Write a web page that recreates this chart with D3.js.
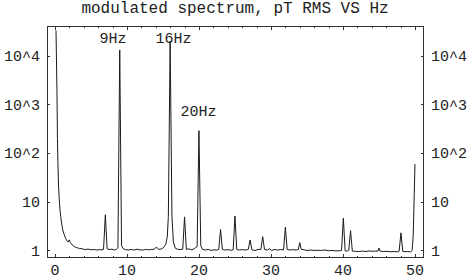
<!DOCTYPE html>
<html><head><meta charset="utf-8">
<script src="https://cdn.jsdelivr.net/npm/d3@7"></script>
<style>html,body{margin:0;padding:0;background:#fff;}svg{display:block;}</style>
</head><body>
<script>
const titleText = "modulated spectrum, pT RMS VS Hz";
const freq = [0.15,0.28,0.35,0.42,0.5,0.6,0.7,0.8,0.95,1.1,1.3,1.5,1.7,1.85,2.0,2.15,2.4,2.7,3.0,3.4,3.8,4.2,4.6,5.0,5.4,5.8,6.2,6.5,6.75,7.0,7.25,7.5,7.9,8.3,8.55,8.75,9.0,9.25,9.5,9.8,10.2,10.6,11.0,11.4,11.8,12.2,12.6,13.0,13.4,13.8,14.1,14.4,14.8,15.1,15.4,15.6,15.75,16.0,16.25,16.45,16.7,17.0,17.4,17.75,18.0,18.25,18.6,19.0,19.4,19.75,20.0,20.25,20.5,20.9,21.3,21.7,22.1,22.5,22.75,23.0,23.25,23.6,24.0,24.4,24.75,25.0,25.25,25.6,26.0,26.4,26.85,27.1,27.35,27.8,28.2,28.6,28.85,29.1,29.5,29.8,30.1,30.5,30.9,31.3,31.75,32.0,32.25,32.6,33.0,33.5,33.8,34.0,34.2,34.6,35.0,35.5,36.0,36.5,37.0,37.5,38.0,38.5,39.0,39.5,39.8,40.05,40.3,40.6,40.8,41.05,41.3,41.7,42.2,42.7,43.2,43.6,44.0,44.5,44.85,45.0,45.15,45.6,46.1,46.6,47.1,47.55,47.8,48.05,48.3,48.6,49.0,49.4,49.6,49.75,49.9,50.0];
const amp = [33000,2000,200,60,22,11,7,5,3.5,2.6,2.1,1.75,1.55,1.5,1.65,1.45,1.3,1.2,1.15,1.1,1.08,1.04,1.07,1.03,1.05,1.02,1.04,1.03,1.05,5.4,1.08,1.05,1.06,1.02,1.05,1.15,13200,1.25,1.08,1.04,1.02,1.05,1.02,1.06,1.03,1.02,1.05,1.03,1.05,1.06,1.18,1.05,1.08,1.15,1.35,1.9,5,20000,5,1.5,1.12,1.06,1.04,1.06,4.9,1.05,1.08,1.03,1.1,1.2,290,1.25,1.05,1.02,1.05,1.0,1.03,1.02,1.05,2.7,1.05,1.02,1.04,1.01,1.03,5.1,1.05,1.02,1.04,1.02,1.05,1.64,1.03,1.0,1.05,1.05,1.92,1.05,1.02,1.08,1.0,1.05,1.02,1.04,1.03,3.0,1.05,1.02,1.04,1.02,1.05,1.45,1.05,1.03,1.0,1.02,1.0,1.01,1.0,1.02,0.99,1.0,0.98,0.99,1.0,4.6,0.98,0.97,1.0,2.55,0.97,0.96,0.95,0.97,0.95,0.98,0.96,0.97,0.97,1.12,0.97,0.95,0.96,0.94,0.95,0.94,0.97,2.3,0.96,0.94,0.95,0.94,1.0,2,15,60];
const xTicks = [0,10,20,30,40,50];
const xMinorTicks = [0,2,4,6,8,10,12,14,16,18,20,22,24,26,28,30,32,34,36,38,40,42,44,46,48,50];
const yTicks = [1,10,100,1000,10000];
const yTickLabels = ["1","10","10^2","10^3","10^4"];
const peakLabels = ["9Hz","16Hz","20Hz"];
const peakLabelFreq = [8.05,16.45,19.95];
const peakLabelAmp = [18400,18400,580];

const W = 473, H = 280;
const L = 47, R = 424, T = 26, B = 258;
const font = "'Liberation Mono', 'DejaVu Sans Mono', monospace";

const svg = d3.select("body").append("svg").attr("width", W).attr("height", H);
const x = d3.scaleLinear().domain([-1.1, 51.25]).range([L, R]);
const y = d3.scaleLog().domain([0.70, 41000]).range([B, T]);

svg.append("defs").append("clipPath").attr("id","clip")
  .append("rect").attr("x",L).attr("y",T).attr("width",R-L).attr("height",B-T);

const data = freq.map((f,i)=>[f, amp[i]]);
svg.append("path").datum(data)
  .attr("clip-path","url(#clip)")
  .attr("fill","none").attr("stroke","#1a1a1a").attr("stroke-width",1)
  .attr("stroke-linejoin","round")
  .attr("d", d3.line().x(d=>x(d[0])).y(d=>y(d[1])));

// frame
svg.append("rect").attr("x",L+0.5).attr("y",T+0.5).attr("width",R-L-1).attr("height",B-T-1)
  .attr("fill","none").attr("stroke","#333").attr("stroke-width",1);

const tg = svg.append("g").attr("stroke","#333").attr("stroke-width",1);
xMinorTicks.forEach(t=>{
  const major = xTicks.includes(t);
  const len = major ? 4 : 2;
  const px = Math.round(x(t))+0.5;
  tg.append("line").attr("x1",px).attr("x2",px).attr("y1",B).attr("y2",B-len);
  tg.append("line").attr("x1",px).attr("x2",px).attr("y1",T).attr("y2",T+len);
});
yTicks.forEach(t=>{
  const py = Math.round(y(t))+0.5;
  tg.append("line").attr("x1",L).attr("x2",L+3).attr("y1",py).attr("y2",py);
  tg.append("line").attr("x1",R).attr("x2",R-3).attr("y1",py).attr("y2",py);
});

const txt = svg.append("g").attr("font-family",font).attr("font-size",15).attr("fill","#222");
xTicks.forEach(t=>{
  txt.append("text").attr("x",x(t)).attr("y",275).attr("text-anchor","middle").text(t);
});
yTicks.forEach((t,i)=>{
  txt.append("text").attr("x",40).attr("y",y(t)).attr("dy","0.35em").attr("text-anchor","end").text(yTickLabels[i]);
  txt.append("text").attr("x",431).attr("y",y(t)).attr("dy","0.35em").attr("text-anchor","start").text(yTickLabels[i]);
});
peakLabels.forEach((s,i)=>{
  txt.append("text").attr("x",x(peakLabelFreq[i])).attr("y",y(peakLabelAmp[i]))
    .attr("text-anchor","middle").text(s);
});
svg.append("text").attr("x",235).attr("y",13).attr("text-anchor","middle")
  .attr("font-family",font).attr("font-size",16).attr("fill","#222").text(titleText);
</script>
</body></html>
